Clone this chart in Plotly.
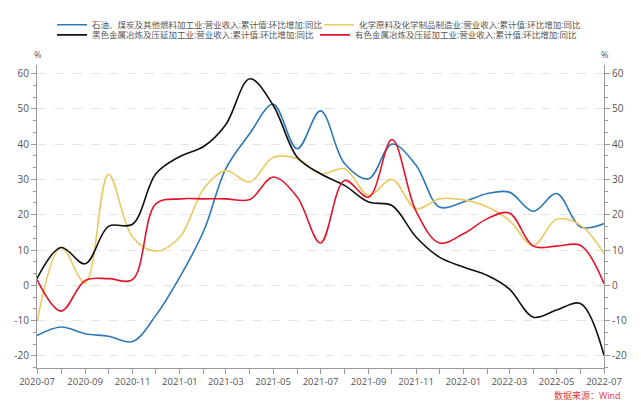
import plotly.graph_objects as go

months = ["2020-07-01","2020-08-01","2020-09-01","2020-10-01","2020-11-01","2020-12-01",
          "2021-01-01","2021-02-01","2021-03-01","2021-04-01","2021-05-01","2021-06-01",
          "2021-07-01","2021-08-01","2021-09-01","2021-10-01","2021-11-01","2021-12-01",
          "2022-01-01","2022-02-01","2022-03-01","2022-04-01","2022-05-01","2022-06-01",
          "2022-07-01"]

name_oil = "石油、煤炭及其他燃料加工业:营业收入:累计值:环比增加:同比"
name_chem = "化学原料及化学制品制造业:营业收入:累计值:环比增加:同比"
name_steel = "黑色金属冶炼及压延加工业:营业收入:累计值:环比增加:同比"
name_nonfer = "有色金属冶炼及压延加工业:营业收入:累计值:环比增加:同比"

oil = [-14.2, -11.8, -13.7, -14.4, -15.9, -8.5, 2.4, 15.6, 33.0, 43.0, 51.3, 38.7,
       49.4, 34.5, 30.2, 40.0, 34.0, 22.2, 23.6, 26.0, 26.4, 21.0, 26.0, 16.5, 17.5]
chem = [-10.4, 10.7, 0.7, 31.4, 13.7, 9.7, 13.7, 27.5, 32.5, 29.3, 36.2, 35.9,
        31.6, 33.0, 25.5, 30.0, 21.7, 24.5, 24.2, 22.2, 18.4, 11.3, 18.7, 17.0, 9.0]
steel = [1.9, 10.7, 6.1, 16.7, 17.3, 31.6, 36.5, 39.4, 45.5, 58.5, 51.0, 36.3,
         31.6, 28.3, 23.6, 22.6, 13.7, 8.0, 5.2, 2.8, -1.0, -9.0, -7.0, -5.2, -19.8]
nonfer = [1.6, -7.3, 1.4, 1.9, 1.6, 23.1, 24.5, 24.5, 24.5, 24.3, 30.7, 25.0,
          12.0, 29.7, 25.0, 41.3, 21.0, 12.0, 14.6, 18.9, 20.5, 11.1, 11.1, 11.3, 0.5]

ytick_vals = [-20, -10, 0, 10, 20, 30, 40, 50, 60]
ytick_text = ["-20", "-10", "0", "10", "20", "30", "40", "50", "60"]

series = [
    (name_oil, oil, "#2e78b7", "legend"),
    (name_chem, chem, "#ecc862", "legend"),
    (name_steel, steel, "#111111", "legend2"),
    (name_nonfer, nonfer, "#e0162b", "legend2"),
]

FONT = "Open Sans, Noto Sans CJK SC, sans-serif"
fig = go.Figure()
for nm, vals, col, lg in series:
    fig.add_trace(go.Scatter(x=months, y=vals, name=nm, mode="lines", legend=lg,
                             line=dict(color=col, width=1.6, shape="spline", smoothing=1.0)))
# invisible trace for right axis
fig.add_trace(go.Scatter(x=months, y=steel, yaxis="y2", mode="lines", showlegend=False,
                         hoverinfo="skip", line=dict(color="rgba(0,0,0,0)")))

yr = [-23.4, 62.4]
common_y = dict(range=yr, tickvals=ytick_vals, ticktext=ytick_text, ticks="outside",
                ticklen=5, tickcolor="#999", showline=True, linecolor="#999", linewidth=1,
                tickfont=dict(size=10, color="#555", family=FONT), zeroline=False,
                minor=dict(dtick=10/3, tick0=0, ticks="outside", ticklen=3, tickcolor="#999",
                           showgrid=False))

leg_common = dict(orientation="h", x=0.0265, xanchor="left", yanchor="top",
                  yref="container", font=dict(size=8.5, color="#555", family=FONT),
                  itemwidth=30, entrywidthmode="pixels", tracegroupgap=0,
                  bgcolor="rgba(0,0,0,0)")

fig.update_layout(
    width=641, height=408,
    margin=dict(l=37, r=37, t=65, b=40, autoexpand=False),
    paper_bgcolor="white", plot_bgcolor="white",
    font=dict(family=FONT, color="#555"),
    showlegend=True,
    legend=dict(y=0.975, entrywidth=222, **leg_common),
    legend2=dict(y=0.950, entrywidth=218, **leg_common),
    xaxis=dict(type="date", range=["2020-07-01", "2022-07-01"], dtick="M2",
               tick0="2020-07-01", tickformat="%Y-%m", ticks="outside", ticklen=5,
               tickcolor="#999", showline=True, linecolor="#999", showgrid=False,
               tickfont=dict(size=9.5, color="#555", family=FONT),
               minor=dict(dtick="M1", tick0="2020-07-01", ticks="outside", ticklen=5,
                          tickcolor="#999", showgrid=False)),
    yaxis=dict(side="left", showgrid=True, gridcolor="#e3e3e3", griddash="dash",
               gridwidth=1, **common_y),
    yaxis2=dict(side="right", overlaying="y", showgrid=False, **common_y),
    annotations=[
        dict(text="%", xref="paper", yref="paper", x=0, y=1.036, showarrow=False,
             xanchor="center", yanchor="middle", font=dict(size=9, color="#555")),
        dict(text="%", xref="paper", yref="paper", x=1, y=1.036, showarrow=False,
             xanchor="center", yanchor="middle", font=dict(size=9, color="#555")),
        dict(text="数据来源：Wind", xref="paper", yref="paper", x=1.033, y=-0.09,
             showarrow=False, xanchor="right", yanchor="middle",
             font=dict(size=9, color="#e03a3a", family=FONT)),
    ],
)
fig.write_html("out.html", config={"displayModeBar": False},
               post_script="document.body.style.margin='0';")
